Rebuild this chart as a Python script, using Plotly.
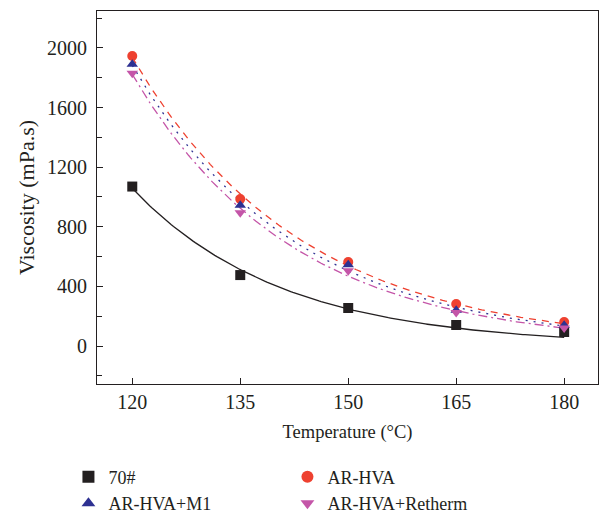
import numpy as np
import plotly.graph_objects as go

temps = [120, 135, 150, 165, 180]
v_70 = [1070, 476, 255, 141, 94]
v_hva = [1946, 986, 564, 282, 161]
v_m1 = [1890, 945, 545, 240, 140]
v_ret = [1830, 895, 505, 225, 120]

names = ["70#", "AR-HVA", "AR-HVA+M1", "AR-HVA+Retherm"]
colors = ["#231f20", "#ee4130", "#2e3192", "#c455a8"]
symbols = ["square", "circle", "triangle-up", "triangle-down"]
dashes = ["solid", "7px,6px", "2px,6px", "9px,4px,2px,4px"]
series = [v_70, v_hva, v_m1, v_ret]


def exp_fit(x, y):
    x = np.asarray(x, float)
    y = np.asarray(y, float)
    best = None
    for t in np.linspace(5, 200, 4000):
        basis = np.exp(-(x - x[0]) / t)
        a = basis @ y / (basis @ basis)
        err = np.sum((a * basis - y) ** 2)
        if best is None or err < best[0]:
            best = (err, t, a)
    _, t, a = best
    xs = np.linspace(x[0], x[-1], 200)
    return xs, a * np.exp(-(xs - x[0]) / t)


fig = go.Figure()
for name, c, d, ys in zip(names, colors, dashes, series):
    xs, yf = exp_fit(temps, ys)
    fig.add_trace(go.Scatter(x=xs, y=yf, mode="lines", showlegend=False,
                             line=dict(color=c, width=1.3, dash=d), hoverinfo="skip"))
for name, c, s, ys in zip(names, colors, symbols, series):
    fig.add_trace(go.Scatter(x=temps, y=ys, mode="markers", name=name,
                             marker=dict(color=c, symbol=s, size=10)))

fam = "Liberation Serif, Times New Roman, serif"
fig.update_layout(
    width=600, height=516,
    margin=dict(l=97, r=2, t=11, b=132, autoexpand=False),
    paper_bgcolor="white", plot_bgcolor="white",
    font=dict(family=fam, size=18, color="#231f20"),
    showlegend=True,
    legend=dict(orientation="h", x=-0.057, xanchor="left", y=-0.200, yanchor="top",
                entrywidth=174, entrywidthmode="pixels", font=dict(size=18),
                tracegroupgap=0, itemsizing="constant"),
    xaxis=dict(range=[115.1, 184.7], tickvals=temps, ticks="inside", ticklen=6,
               tickcolor="#231f20", showline=True, linecolor="#231f20", linewidth=1.2,
               mirror=True, showgrid=False, zeroline=False, automargin=False,
               tickfont=dict(size=20),
               title=dict(text="Temperature (°C)", standoff=12, font=dict(size=18.5))),
    yaxis=dict(range=[-255, 2248], tickvals=[0, 400, 800, 1200, 1600, 2000], ticks="inside",
               ticklen=6, tickcolor="#231f20", showline=True, linecolor="#231f20",
               linewidth=1.2, mirror=True, showgrid=False, zeroline=False, automargin=False,
               tickfont=dict(size=20), ticklabelstandoff=5,
               minor=dict(tickvals=[-200, 200, 600, 1000, 1400, 1800, 2200], ticks="inside",
                          ticklen=5, tickcolor="#231f20"),
               title=dict(text="Viscosity (mPa.s)", standoff=6, font=dict(size=22))),
)
fig.write_html("out.html", config={"displayModeBar": False},
               post_script="document.body.style.margin='0';document.body.style.overflow='hidden';")
